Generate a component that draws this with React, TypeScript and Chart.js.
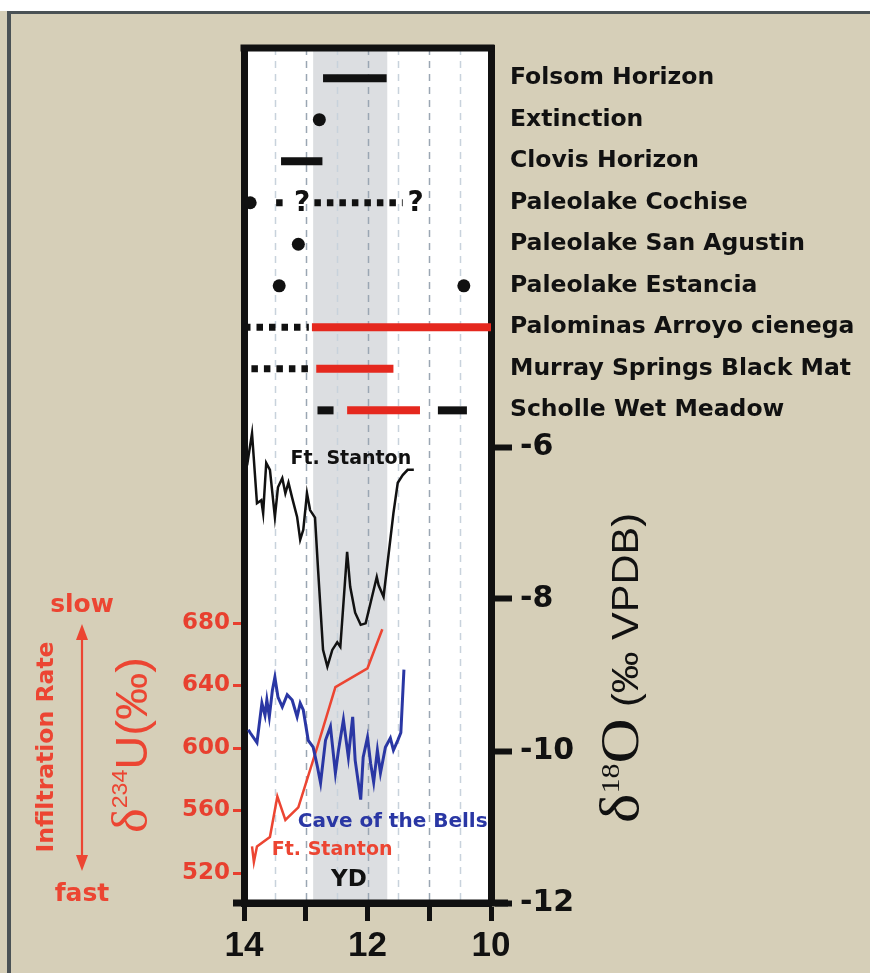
import React, { useEffect, useRef } from 'react';
import { Chart, registerables } from 'chart.js';

Chart.register(...registerables);

// ---- Ages (ka) ----
const ageTicks = [14, 13, 12, 11, 10];
const ageTickLabels = ['14', '', '12', '', '10'];
const gridAges = [13.5, 13, 12.5, 12, 11.5, 11, 10.5];
const ydStart = 12.88;
const ydEnd = 11.68;

// ---- Axis ticks ----
const d18OTicks = [-6, -8, -10, -12];
const d234UTicks = [520, 560, 600, 640, 680];

// ---- Ft. Stanton δ18O ----
const stantonAge = [13.95, 13.87, 13.79, 13.72, 13.69, 13.64, 13.58, 13.5, 13.45, 13.38, 13.33, 13.28, 13.22, 13.14, 13.09, 13.04, 12.98, 12.93, 12.85, 12.8, 12.72, 12.65, 12.57, 12.49, 12.44, 12.33, 12.28, 12.2, 12.11, 12.03, 11.95, 11.85, 11.82, 11.74, 11.67, 11.58, 11.51, 11.43, 11.35, 11.25];
const stantonD18O = [-6.24, -5.82, -6.74, -6.7, -6.87, -6.21, -6.3, -6.92, -6.53, -6.41, -6.61, -6.47, -6.67, -6.92, -7.22, -7.09, -6.61, -6.83, -6.93, -7.62, -8.67, -8.89, -8.67, -8.57, -8.63, -7.38, -7.84, -8.18, -8.34, -8.32, -8.05, -7.71, -7.82, -7.97, -7.49, -6.87, -6.47, -6.37, -6.3, -6.3];

// ---- Cave of the Bells δ18O ----
const bellsAge = [13.93, 13.9, 13.79, 13.71, 13.66, 13.63, 13.59, 13.54, 13.5, 13.45, 13.38, 13.3, 13.22, 13.14, 13.09, 13.04, 12.96, 12.88, 12.81, 12.76, 12.68, 12.6, 12.52, 12.47, 12.39, 12.31, 12.24, 12.2, 12.11, 12.07, 12.0, 11.95, 11.9, 11.84, 11.79, 11.71, 11.63, 11.58, 11.51, 11.46, 11.41];
const bellsD18O = [-9.72, -9.76, -9.89, -9.37, -9.53, -9.33, -9.55, -9.2, -9.03, -9.29, -9.42, -9.26, -9.33, -9.55, -9.37, -9.46, -9.86, -9.95, -10.21, -10.42, -9.86, -9.68, -10.29, -9.99, -9.59, -10.08, -9.55, -10.12, -10.64, -10.08, -9.82, -10.16, -10.41, -9.99, -10.29, -9.95, -9.83, -9.99, -9.86, -9.76, -8.93];

// ---- Ft. Stanton δ234U ----
const uAge = [13.87, 13.84, 13.79, 13.58, 13.46, 13.33, 13.12, 12.81, 12.52, 12.0, 11.76];
const uD234U = [537, 527, 537, 543, 569, 554, 562, 601, 639, 651, 676];

// ---- Event chronology ----
const eventNames = [
  'Folsom Horizon',
  'Extinction',
  'Clovis Horizon',
  'Paleolake Cochise',
  'Paleolake San Agustin',
  'Paleolake Estancia',
  'Palominas Arroyo cienega',
  'Murray Springs Black Mat',
  'Scholle Wet Meadow',
];
// [row, from age, to age]
const blackSpans = [[0, 12.72, 11.69], [2, 13.4, 12.73], [8, 12.81, 12.55], [8, 10.86, 10.39]];
const redSpans = [[6, 12.9, 10.0], [7, 12.83, 11.58], [8, 12.33, 11.15]];
const dottedSpans = [[3, 13.48, 13.29], [3, 12.86, 11.43], [6, 14.0, 12.95], [7, 13.88, 12.88]];
// [row, age]
const eventDots = [[1, 12.78], [3, 13.9], [4, 13.12], [5, 13.43], [5, 10.44]];
const uncertainAges = [[3, 13.06], [3, 11.22]];

const BLACK = '#111111';
const RED_EVENT = '#e5281e';
const RED = '#ec4532';
const BLUE = '#2a37a4';
const BOLD = '"DejaVu Sans", "Liberation Sans", sans-serif';

const pts = (xs: number[], ys: number[]) => xs.map((x, i) => ({ x, y: ys[i] }));

function spanDataset(span: number[], color: string, dotted: boolean) {
  const [row, from, to] = span;
  return {
    type: 'line' as const,
    yAxisID: 'ev',
    data: [{ x: from, y: row }, { x: to, y: row }],
    borderColor: color,
    borderWidth: dotted ? 7 : 8,
    borderDash: dotted ? [6.5, 6] : [],
    borderCapStyle: 'butt' as const,
    pointRadius: 0,
    tension: 0,
  };
}

type Run = { text: string; font: string; rise?: number };

function drawRotated(ctx: CanvasRenderingContext2D, runs: Run[], baseX: number, startY: number, length: number | null, color: string) {
  ctx.save();
  let natural = 0;
  for (const r of runs) {
    ctx.font = r.font;
    natural += ctx.measureText(r.text).width;
  }
  const len = length ?? natural;
  ctx.translate(baseX, startY);
  ctx.rotate(-Math.PI / 2);
  ctx.scale(len / natural, 1);
  ctx.fillStyle = color;
  ctx.textAlign = 'left';
  ctx.textBaseline = 'alphabetic';
  let x = 0;
  for (const r of runs) {
    ctx.font = r.font;
    ctx.fillText(r.text, x, -(r.rise || 0));
    x += ctx.measureText(r.text).width;
  }
  ctx.restore();
}

const backdrop = {
  id: 'backdrop',
  beforeDraw(chart: any) {
    const { ctx, chartArea: a, scales } = chart;
    const W = chart.width;
    const H = chart.height;
    ctx.save();
    ctx.fillStyle = '#ffffff';
    ctx.fillRect(0, 0, W, H);
    ctx.fillStyle = '#d6cfb8';
    ctx.fillRect(0, 11, W, H);
    ctx.fillStyle = '#4a5255';
    ctx.fillRect(7, 11, 4, H);
    ctx.fillRect(7, 11, W, 3);

    ctx.fillStyle = '#ffffff';
    ctx.fillRect(a.left, a.top, a.right - a.left, a.bottom - a.top);

    const x = scales.x;
    const b0 = x.getPixelForValue(ydStart);
    const b1 = x.getPixelForValue(ydEnd);
    ctx.fillStyle = '#dcdee1';
    ctx.fillRect(Math.min(b0, b1), a.top, Math.abs(b1 - b0), a.bottom - a.top);

    ctx.lineWidth = 1.5;
    ctx.setLineDash([7, 6]);
    for (const v of gridAges) {
      const px = Math.round(x.getPixelForValue(v)) + 0.5;
      ctx.strokeStyle = Number.isInteger(v) ? '#9aa6b3' : '#c8d2dc';
      ctx.beginPath();
      ctx.moveTo(px, a.top);
      ctx.lineTo(px, a.bottom);
      ctx.stroke();
    }
    ctx.restore();
  },
  afterDraw(chart: any) {
    const { ctx, chartArea: a, scales } = chart;
    const x = scales.x;
    const y = scales.y;
    const yL = scales.yL;
    const ev = scales.ev;
    ctx.save();

    // frame: top edge and extended time axis
    ctx.fillStyle = BLACK;
    ctx.fillRect(a.left - 3.5, a.top - 3.5, a.right - a.left + 7, 7);
    ctx.fillRect(a.left - 11, a.bottom - 3.5, a.right - a.left + 28, 7);

    // event names
    ctx.fillStyle = BLACK;
    ctx.font = `bold 23.5px ${BOLD}`;
    ctx.textAlign = 'left';
    ctx.textBaseline = 'middle';
    eventNames.forEach((name, i) => {
      ctx.fillText(name, a.right + 19, ev.getPixelForValue(i));
    });

    // uncertain bounds
    ctx.font = `bold 28px ${BOLD}`;
    ctx.textAlign = 'center';
    for (const [row, age] of uncertainAges) {
      ctx.fillText('?', x.getPixelForValue(age), ev.getPixelForValue(row) + 1);
    }

    // series labels
    ctx.font = `bold 19px ${BOLD}`;
    ctx.fillStyle = BLACK;
    ctx.textAlign = 'center';
    ctx.fillText('Ft. Stanton', x.getPixelForValue(12.27), y.getPixelForValue(-6.16));
    ctx.textAlign = 'left';
    ctx.fillStyle = RED;
    ctx.fillText('Ft. Stanton', x.getPixelForValue(13.55), yL.getPixelForValue(534.7));
    ctx.font = `bold 20px ${BOLD}`;
    ctx.fillStyle = BLUE;
    ctx.fillText('Cave of the Bells', x.getPixelForValue(13.13), y.getPixelForValue(-10.93));
    ctx.font = `bold 23px ${BOLD}`;
    ctx.fillStyle = BLACK;
    ctx.textAlign = 'center';
    ctx.fillText('YD', x.getPixelForValue(12.3), y.getPixelForValue(-11.7));

    // right axis title
    drawRotated(ctx, [
      { text: 'δ', font: '54px "Liberation Serif", serif' },
      { text: '18', font: '26px "Liberation Serif", serif', rise: 19 },
      { text: 'O', font: '54px "Liberation Serif", serif' },
      { text: ' (‰ VPDB)', font: '36px "Liberation Sans", Arial, sans-serif' },
    ], 638, 823, 310, BLACK);

    // left axis title
    drawRotated(ctx, [
      { text: 'δ', font: '50px "Liberation Serif", serif' },
      { text: '234', font: '22px "Liberation Sans", Arial, sans-serif', rise: 20 },
      { text: 'U(‰)', font: '45px "Liberation Sans", Arial, sans-serif' },
    ], 147, 833, 176, RED);

    // infiltration annotation
    ctx.font = `bold 23.5px ${BOLD}`;
    const w = ctx.measureText('Infiltration Rate').width;
    drawRotated(ctx, [{ text: 'Infiltration Rate', font: `bold 23.5px ${BOLD}` }], 53, 747 + w / 2, null, RED);

    ctx.fillStyle = RED;
    ctx.font = `bold 25px ${BOLD}`;
    ctx.textAlign = 'center';
    ctx.textBaseline = 'alphabetic';
    ctx.fillText('slow', 82, 612);
    ctx.fillText('fast', 82, 901);

    ctx.strokeStyle = RED;
    ctx.lineWidth = 2.2;
    ctx.beginPath();
    ctx.moveTo(82, 636);
    ctx.lineTo(82, 858);
    ctx.stroke();
    ctx.beginPath();
    ctx.moveTo(82, 624);
    ctx.lineTo(76, 640);
    ctx.lineTo(88, 640);
    ctx.closePath();
    ctx.moveTo(82, 871);
    ctx.lineTo(76, 855);
    ctx.lineTo(88, 855);
    ctx.closePath();
    ctx.fill();

    ctx.restore();
  },
};

export default function App() {
  const ref = useRef<HTMLCanvasElement>(null);

  useEffect(() => {
    const canvas = ref.current;
    if (!canvas) return;

    const datasets: any[] = [
      {
        type: 'line',
        yAxisID: 'y',
        data: pts(stantonAge, stantonD18O),
        borderColor: BLACK,
        borderWidth: 2.5,
        pointRadius: 0,
        tension: 0,
      },
      {
        type: 'line',
        yAxisID: 'y',
        data: pts(bellsAge, bellsD18O),
        borderColor: BLUE,
        borderWidth: 3,
        pointRadius: 0,
        tension: 0,
      },
      {
        type: 'line',
        yAxisID: 'yL',
        data: pts(uAge, uD234U),
        borderColor: RED,
        borderWidth: 2.5,
        pointRadius: 0,
        tension: 0,
      },
      ...blackSpans.map((s) => spanDataset(s, BLACK, false)),
      ...redSpans.map((s) => spanDataset(s, RED_EVENT, false)),
      ...dottedSpans.map((s) => spanDataset(s, BLACK, true)),
      {
        type: 'scatter',
        yAxisID: 'ev',
        data: eventDots.map(([row, age]) => ({ x: age, y: row })),
        backgroundColor: BLACK,
        borderColor: BLACK,
        borderWidth: 0,
        pointRadius: 6.5,
        showLine: false,
      },
    ];

    const chart = new Chart(canvas, {
      type: 'line',
      data: { datasets },
      plugins: [backdrop],
      options: {
        animation: false,
        responsive: false,
        maintainAspectRatio: false,
        devicePixelRatio: 1,
        events: [],
        layout: { padding: { top: 48, left: 0, right: 0, bottom: 0 } },
        plugins: { legend: { display: false }, tooltip: { enabled: false } },
        scales: {
          x: {
            type: 'linear',
            position: 'bottom',
            min: 10,
            max: 14,
            reverse: true,
            afterBuildTicks: (s: any) => {
              s.ticks = ageTicks.map((value) => ({ value }));
            },
            afterFit: (s: any) => {
              s.height = 70;
            },
            ticks: {
              autoSkip: false,
              maxRotation: 0,
              padding: 4,
              color: BLACK,
              font: { family: '"Liberation Sans", Arial, sans-serif', size: 35, weight: 'bold' },
              callback: (v: any) => ageTickLabels[ageTicks.indexOf(Number(v))] ?? '',
            },
            grid: { drawOnChartArea: false, drawTicks: true, tickLength: 18, tickWidth: 5, tickColor: BLACK },
            border: { display: true, width: 7, color: BLACK },
          },
          y: {
            type: 'linear',
            position: 'right',
            min: -12,
            max: -0.75,
            afterBuildTicks: (s: any) => {
              s.ticks = d18OTicks.map((value) => ({ value }));
            },
            afterFit: (s: any) => {
              s.width = 379;
            },
            ticks: {
              autoSkip: false,
              padding: 8,
              color: BLACK,
              font: { family: BOLD, size: 30, weight: 'bold' },
              callback: (v: any) => String(v),
            },
            grid: { drawOnChartArea: false, drawTicks: true, tickLength: 21, tickWidth: 6, tickColor: BLACK },
            border: { display: true, width: 7, color: BLACK },
          },
          yL: {
            type: 'linear',
            position: 'left',
            min: 500.8,
            max: 1048,
            afterBuildTicks: (s: any) => {
              s.ticks = d234UTicks.map((value) => ({ value }));
            },
            afterFit: (s: any) => {
              s.width = 244;
            },
            ticks: {
              autoSkip: false,
              padding: 3,
              color: '#e8402f',
              font: { family: BOLD, size: 23, weight: 'bold' },
              callback: (v: any) => String(v),
            },
            grid: { drawOnChartArea: false, drawTicks: true, tickLength: 11, tickWidth: 3, tickColor: '#e8402f' },
            border: { display: true, width: 7, color: BLACK },
          },
          ev: {
            type: 'linear',
            display: false,
            reverse: true,
            min: -0.727,
            max: 19.865,
          },
        },
      } as any,
    });

    return () => chart.destroy();
  }, []);

  return (
    <div style={{ position: 'absolute', left: 0, top: 0, width: 870, height: 973 }}>
      <canvas ref={ref} width={870} height={973} style={{ display: 'block', width: 870, height: 973 }} />
    </div>
  );
}
